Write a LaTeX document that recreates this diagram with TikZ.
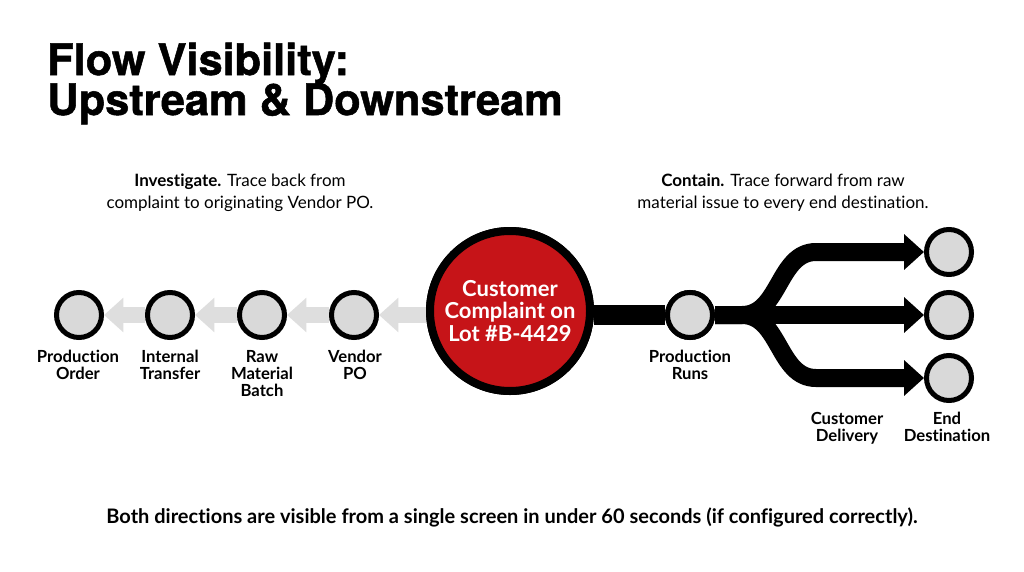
\documentclass[tikz,border=0pt]{standalone}
\usepackage{fontspec}
\setmainfont[Ligatures=NoCommon]{Lato}
\newfontfamily\titlefont[BoldFeatures={FakeBold=1.2}]{TeX Gyre Heros}
\usetikzlibrary{arrows.meta}
\definecolor{cred}{RGB}{198,20,24}
\definecolor{cgray}{RGB}{217,217,217}
\definecolor{carrow}{RGB}{222,222,222}
\tikzset{
  dot/.style={circle,draw=black,line width=3.75pt,fill=cgray,minimum size=33.75pt,inner sep=0pt},
  hub/.style={circle,draw=black,line width=6pt,fill=cred,minimum size=120pt,inner sep=0pt,
    text=white,font=\bfseries\fontsize{16.5pt}{16.8pt}\selectfont,align=center},
  lbl/.style={font=\bfseries\fontsize{12.5pt}{12.6pt}\selectfont,align=center,inner sep=0pt,anchor=base},
  note/.style={font=\fontsize{12.75pt}{16pt}\selectfont,align=center,inner sep=0pt,anchor=base},
  back/.style={carrow,line width=12pt,-{Triangle[length=14.5pt,width=25pt]}},
  fwd/.style={black,line width=13.5pt,-{Triangle[length=15pt,width=26pt]}},
  ttl/.style={font=\titlefont\bfseries\fontsize{32.5pt}{34pt}\selectfont,inner sep=0pt,anchor=base west}
}
\begin{document}
\begin{tikzpicture}[x=0.75pt,y=-0.75pt]
\useasboundingbox (0,0) rectangle (1024,571);
% title
\node[ttl] (t1) at (47,75) {Flow Visibility:};
\node[ttl] (t2) at (47,115) {Upstream \& Downstream};
% notes (base = last line)
\node[note] (n1) at (240,208) {\textbf{Investigate.} Trace back from\\complaint to originating Vendor PO.};
\node[note] (n2) at (783,208) {\textbf{Contain.} Trace forward from raw\\material issue to every end destination.};
% nodes
\node[hub] (hub) at (510,311) {Customer\\Complaint on\\Lot \#B-4429};
\node[dot] (vpo) at (354,315) {};
\node[dot] (raw) at (262,315) {};
\node[dot] (int) at (170,315) {};
\node[dot] (po) at (79,315) {};
\node[dot] (pr) at (690,315) {};
\node[dot] (e1) at (949,252) {};
\node[dot] (e2) at (949,315) {};
\node[dot] (e3) at (949,378) {};
% upstream arrows
\draw[back] (hub.west |- vpo) -- (vpo.east);
\draw[back] (vpo.west) -- (raw.east);
\draw[back] (raw.west) -- (int.east);
\draw[back] (int.west) -- (po.east);
% downstream
\draw[black,line width=15pt] (hub.east |- pr) -- (pr.west);
\draw[fwd] (pr.east) -- (742,315) .. controls (780,315) and (778,252) .. (816,252) -- (e1.west);
\draw[fwd] (pr.east) -- (e2.west);
\draw[fwd] (pr.east) -- (742,315) .. controls (780,315) and (778,378) .. (816,378) -- (e3.west);
\node[dot] at (pr) {};
\node[hub] at (hub) {Customer\\Complaint on\\Lot \#B-4429};
% labels (base = last line)
\node[lbl] (lpo) at (78,379) {Production\\Order};
\node[lbl] (lint) at (170,379) {Internal\\Transfer};
\node[lbl] (lraw) at (262,396) {Raw\\Material\\Batch};
\node[lbl] (lvpo) at (355,379) {Vendor\\PO};
\node[lbl] (lpr) at (690,379) {Production\\Runs};
\node[lbl] (lcd) at (847,441) {Customer\\Delivery};
\node[lbl] (led) at (947,441) {End\\Destination};
% footer
\node[font=\bfseries\fontsize{15pt}{16pt}\selectfont,inner sep=0pt,anchor=base] (foot) at (512,523) {Both directions are visible from a single screen in under 60 seconds (if configured correctly).};
\end{tikzpicture}
\end{document}
